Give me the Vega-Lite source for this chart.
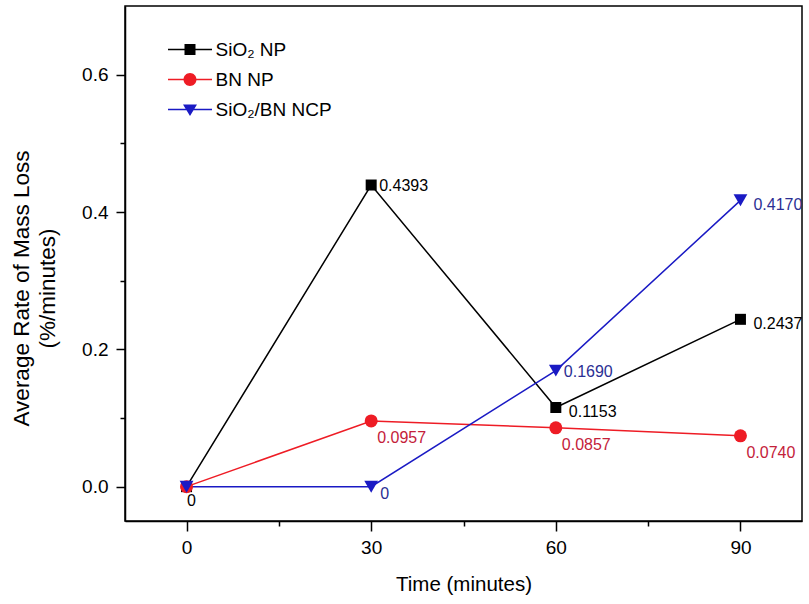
{
  "$schema": "https://vega.github.io/schema/vega-lite/v6.json",
  "width": 677,
  "height": 515,
  "autosize": {"type": "none"},
  "padding": {"left": 125, "top": 6, "right": 7, "bottom": 83},
  "background": "white",
  "config": {
    "font": "Liberation Sans",
    "view": {"stroke": "black", "strokeWidth": 1.5},
    "axis": {
      "domainColor": "black",
      "domainWidth": 1.5,
      "tickColor": "black",
      "tickWidth": 1.5,
      "grid": false,
      "labelColor": "black",
      "titleColor": "black",
      "labelFont": "Liberation Sans",
      "titleFont": "Liberation Sans",
      "titleFontWeight": "normal"
    }
  },
  "data": {
    "values": [
      {"series": "SiO₂ NP", "time": 0, "rate": 0, "label": "0"},
      {"series": "SiO₂ NP", "time": 30, "rate": 0.4393, "label": "0.4393"},
      {"series": "SiO₂ NP", "time": 60, "rate": 0.1153, "label": "0.1153"},
      {"series": "SiO₂ NP", "time": 90, "rate": 0.2437, "label": "0.2437"},
      {"series": "BN NP", "time": 0, "rate": 0, "label": ""},
      {"series": "BN NP", "time": 30, "rate": 0.0957, "label": "0.0957"},
      {"series": "BN NP", "time": 60, "rate": 0.0857, "label": "0.0857"},
      {"series": "BN NP", "time": 90, "rate": 0.0740, "label": "0.0740"},
      {"series": "SiO₂/BN NCP", "time": 0, "rate": 0, "label": ""},
      {"series": "SiO₂/BN NCP", "time": 30, "rate": 0, "label": "0"},
      {"series": "SiO₂/BN NCP", "time": 60, "rate": 0.1690, "label": "0.1690"},
      {"series": "SiO₂/BN NCP", "time": 90, "rate": 0.4170, "label": "0.4170"}
    ]
  },
  "encoding": {
    "x": {
      "field": "time",
      "type": "quantitative",
      "scale": {"domain": [-10, 100], "nice": false, "zero": false},
      "axis": {
        "title": "Time (minutes)",
        "titleFontSize": 20.5,
        "titlePadding": 17,
        "values": [0, 15, 30, 45, 60, 75, 90],
        "labelExpr": "datum.value % 30 === 0 ? datum.label : ''",
        "labelFontSize": 19,
        "labelPadding": 7,
        "tickSize": {"condition": {"test": "datum.value % 30 === 0", "value": 10}, "value": 5}
      }
    },
    "y": {
      "field": "rate",
      "type": "quantitative",
      "scale": {"domain": [-0.05, 0.7], "nice": false, "zero": false},
      "axis": {
        "title": ["Average Rate of Mass Loss", "(%/minutes)"],
        "titleFontSize": 22.5,
        "titleLineHeight": 26,
        "titlePadding": 22,
        "titleY": 282,
        "values": [0, 0.1, 0.2, 0.3, 0.4, 0.5, 0.6],
        "format": ".1f",
        "labelExpr": "round(datum.value * 10) % 2 === 0 ? datum.label : ''",
        "labelFontSize": 19,
        "labelPadding": 8,
        "tickSize": {"condition": {"test": "round(datum.value * 10) % 2 === 0", "value": 9}, "value": 5}
      }
    }
  },
  "layer": [
    {
      "mark": {"type": "line", "strokeWidth": 1.5},
      "encoding": {
        "color": {
          "field": "series",
          "type": "nominal",
          "sort": null,
          "scale": {
            "domain": ["SiO₂ NP", "BN NP", "SiO₂/BN NCP"],
            "range": ["#000000", "#ee1c25", "#1a1ac4"]
          },
          "legend": {
            "title": null,
            "orient": "none",
            "legendX": 55.5,
            "legendY": 34,
            "padding": 0,
            "labelFontSize": 19,
            "labelFont": "Liberation Sans",
            "labelColor": "black",
            "labelOffset": 16,
            "rowPadding": 10,
            "symbolSize": 121,
            "symbolStrokeWidth": 0,
            "encode": {
              "symbols": {
                "update": {
                  "shape": {"signal": "datum.value === 'BN NP' ? 'M-4,-0.13H4V0.13H-4Z M-1.18,0A1.18,1.18 0 1,1 1.18,0A1.18,1.18 0 1,1 -1.18,0Z' : (datum.value === 'SiO₂ NP' ? 'M-4,-0.13H4V0.13H-4Z M-1,-1H1V1H-1Z' : 'M-4,-0.13H4V0.13H-4Z M-1.27,-0.9H1.27L0,1.2Z')"},
                  "fill": {"scale": "color", "field": "value"},
                  "fillOpacity": {"value": 1},
                  "strokeWidth": {"value": 0}
                }
              }
            }
          }
        }
      }
    },
    {
      "transform": [{"filter": "datum.series === 'SiO₂ NP'"}],
      "mark": {"type": "point", "filled": true, "opacity": 1, "shape": "square", "size": 121},
      "encoding": {"color": {"field": "series", "type": "nominal", "sort": null}}
    },
    {
      "transform": [{"filter": "datum.series === 'BN NP'"}],
      "mark": {"type": "point", "filled": true, "opacity": 1, "shape": "circle", "size": 169},
      "encoding": {"color": {"field": "series", "type": "nominal", "sort": null}}
    },
    {
      "transform": [{"filter": "datum.series === 'SiO₂/BN NCP'"}],
      "mark": {"type": "point", "filled": true, "opacity": 1, "shape": "triangle-down", "size": 190},
      "encoding": {"color": {"field": "series", "type": "nominal", "sort": null}}
    },
    {
      "transform": [{"filter": "(datum.series === 'SiO₂ NP' && datum.time === 30) || (datum.series === 'SiO₂/BN NCP' && datum.time === 60)"}],
      "mark": {"type": "text", "align": "left", "baseline": "middle", "dx": 8, "dy": 1, "fontSize": 16},
      "encoding": {
        "text": {"field": "label"},
        "fill": {"field": "series", "type": "nominal", "scale": {"domain": ["SiO₂ NP", "BN NP", "SiO₂/BN NCP"], "range": ["#000000", "#c4213a", "#2b2f94"]}, "legend": null}
      }
    },
    {
      "transform": [{"filter": "datum.series === 'SiO₂/BN NCP' && datum.time === 30"}],
      "mark": {"type": "text", "align": "left", "baseline": "middle", "dx": 9, "dy": 7, "fontSize": 16},
      "encoding": {
        "text": {"field": "label"},
        "fill": {"field": "series", "type": "nominal", "legend": null}
      }
    },
    {
      "transform": [{"filter": "(datum.series === 'SiO₂ NP' && datum.time >= 60) || (datum.series === 'SiO₂/BN NCP' && datum.time === 90)"}],
      "mark": {"type": "text", "align": "left", "baseline": "middle", "dx": 13, "dy": 5, "fontSize": 16},
      "encoding": {
        "text": {"field": "label"},
        "fill": {"field": "series", "type": "nominal", "legend": null}
      }
    },
    {
      "transform": [{"filter": "datum.series === 'BN NP' && datum.time > 0"}],
      "mark": {"type": "text", "align": "left", "baseline": "middle", "dx": 6, "dy": 17, "fontSize": 16},
      "encoding": {
        "text": {"field": "label"},
        "fill": {"field": "series", "type": "nominal", "legend": null}
      }
    },
    {
      "transform": [{"filter": "datum.series === 'SiO₂ NP' && datum.time === 0"}],
      "mark": {"type": "text", "align": "center", "baseline": "middle", "dx": 5, "dy": 14, "fontSize": 16},
      "encoding": {
        "text": {"field": "label"},
        "fill": {"field": "series", "type": "nominal", "legend": null}
      }
    }
  ]
}
